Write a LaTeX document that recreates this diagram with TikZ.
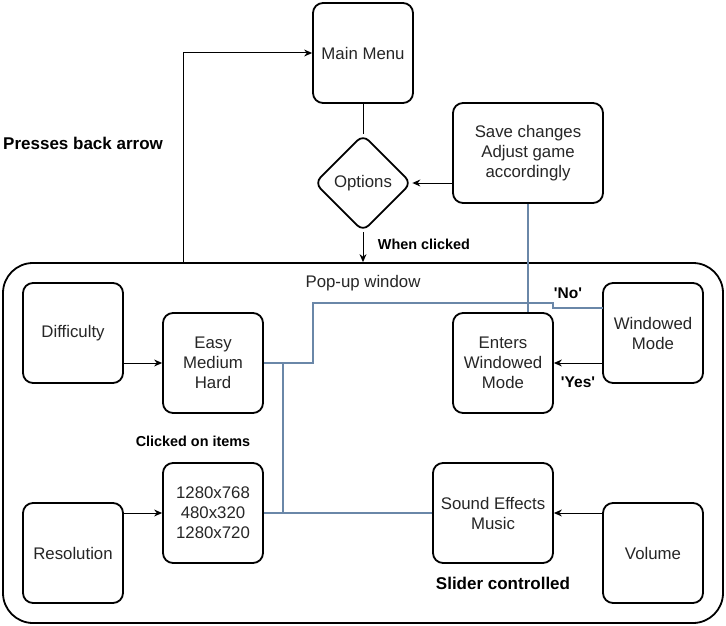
\documentclass[tikz,border=0pt]{standalone}
\usepackage{fontspec}
\setmainfont{Liberation Sans}
\usetikzlibrary{shapes.geometric,arrows.meta}
\definecolor{txt}{HTML}{262626}
\definecolor{conn}{RGB}{106,135,168}
\tikzset{
  box/.style={draw=black,line width=1.8pt,rounded corners=10pt,minimum width=100pt,minimum height=100pt,inner sep=0pt,align=center,text=txt,font=\fontsize{16.8}{20}\selectfont},
  arr/.style={draw=black,line width=1pt,-{Stealth[length=8pt,width=7pt]}},
  plain/.style={draw=black,line width=1pt},
  bl/.style={draw=conn,line width=1.1pt},
  lblS/.style={font=\fontsize{14.4}{17}\selectfont\bfseries,text=black,inner sep=0pt},
  lblL/.style={font=\fontsize{17}{20}\selectfont\bfseries,text=black,inner sep=0pt},
  lblM/.style={font=\fontsize{15.5}{18}\selectfont\bfseries,text=black,inner sep=0pt},
  plaintext/.style={font=\fontsize{16.8}{20}\selectfont,text=txt,inner sep=0pt}
}
\begin{document}
\begin{tikzpicture}[x=1pt,y=-1pt]
\useasboundingbox[fill=white] (0,0) rectangle (726,626);
% popup window
\node[draw=black,line width=1.8pt,rounded corners=30pt,minimum width=720pt,minimum height=360pt,inner sep=0pt] (popup) at (363,443) {};
\node[plaintext] (poplbl) at (363,283) {Pop-up window};
% top nodes
\node[box] (mm) at (363,53) {Main Menu};
\node[draw=black,line width=1.8pt,diamond,rounded corners=8pt,minimum width=97pt,minimum height=97pt,inner sep=0pt,text=txt,font=\fontsize{16.8}{20}\selectfont] (opt) at (363,183) {Options};
\node[box,minimum width=150pt] (save) at (528,153) {Save changes\\Adjust game\\accordingly};
% inner nodes
\node[box] (diff) at (73,333) {Difficulty};
\node[box] (easy) at (213,363) {Easy\\Medium\\Hard};
\node[box] (res) at (73,553) {Resolution};
\node[box] (resopt) at (213,513) {1280x768\\480x320\\1280x720};
\node[box] (enters) at (503,363) {Enters\\Windowed\\Mode};
\node[box] (win) at (653,333) {Windowed\\Mode};
\node[box,minimum width=120pt] (snd) at (493,513) {Sound Effects\\Music};
\node[box] (vol) at (653,553) {Volume};
% labels
\node[lblL,anchor=west] (back) at (3,143) {Presses back arrow};
\node[lblS] (whenc) at (424,244) {When clicked};
\node[lblS] (clk) at (193,441) {Clicked on items};
\node[lblL] (slider) at (503,583) {Slider controlled};
\node[lblM] (no) at (568,293) {\textquotesingle No\textquotesingle};
\node[lblM] (yes) at (578,382) {\textquotesingle Yes\textquotesingle};
% coordinates
\coordinate (bk) at (183,263);
\coordinate (b1) at (313,363);
\coordinate (b2) at (313,303);
\coordinate (b3) at (553,308);
\coordinate (b4) at (603,308);
\coordinate (v1) at (283,363);
\coordinate (v2) at (283,513);
% black connectors
\draw[arr] (bk) |- (mm.west);
\draw[plain] (mm.south) -- (opt.north);
\draw[arr] (save.west |- opt.east) -- (opt.east);
\draw[arr] (opt.south) -- (popup.north);
\draw[arr] (diff.east |- easy.west) -- (easy.west);
\draw[arr] (res.east |- resopt.west) -- (resopt.west);
\draw[arr] (win.west |- enters.east) -- (enters.east);
\draw[arr] (vol.west |- snd.east) -- (snd.east);
% blue connectors
\draw[bl] (easy.east) -- (b1) -- (b2) -| (b3) -- (b4);
\draw[bl] (v1) -- (v2);
\draw[bl] (resopt.east) -- (snd.west);
\draw[bl] (save.south) -- (save.south |- enters.north);
\end{tikzpicture}
\end{document}
